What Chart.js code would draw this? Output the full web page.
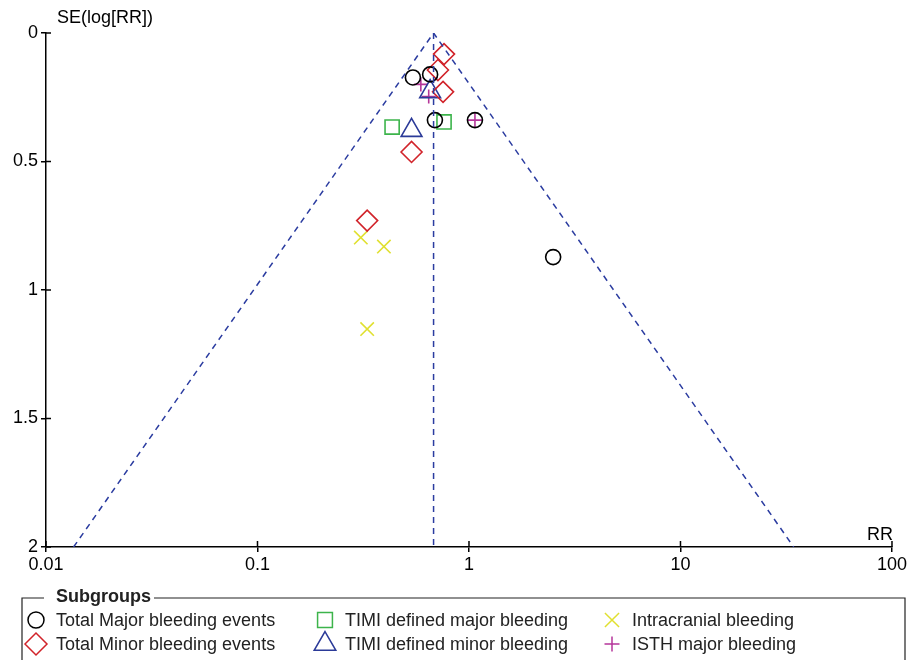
<!DOCTYPE html>
<html>
<head>
<meta charset="utf-8">
<script src="https://cdn.jsdelivr.net/npm/chart.js@4.4.1/dist/chart.umd.min.js"></script>
<style>
  body { margin: 0; background: #fff; }
</style>
</head>
<body>
<canvas id="funnel" width="909" height="660"></canvas>
<script>
// axis ticks
var xTicks = [0.01, 0.1, 1, 10, 100];
var yTicks = [0, 0.5, 1, 1.5, 2];

// pooled estimate + funnel limits
var pooledRR = [0.68, 0.68];
var pooledSE = [0, 2];
var funnelRR = [0.0135, 0.68, 34.3];
var funnelSE = [2, 0, 2];

// subgroups
var majorRR = [0.543, 0.655, 0.690, 1.067, 2.50];
var majorSE = [0.173, 0.161, 0.339, 0.339, 0.872];
var minorRR = [0.762, 0.713, 0.754, 0.535, 0.330];
var minorSE = [0.082, 0.144, 0.229, 0.463, 0.730];
var timiMajRR = [0.433, 0.762];
var timiMajSE = [0.366, 0.346];
var timiMinRR = [0.655, 0.535];
var timiMinSE = [0.228, 0.379];
var icbRR = [0.308, 0.396, 0.330];
var icbSE = [0.796, 0.831, 1.152];
var isthRR = [0.592, 0.645, 1.067];
var isthSE = [0.200, 0.247, 0.339];

function pts(xs, ys) {
  return xs.map(function(x, i) { return { x: x, y: ys[i] }; });
}

var FONT = '"Liberation Sans", Arial, sans-serif';
Chart.defaults.font.family = FONT;
Chart.defaults.font.size = 18;
Chart.defaults.color = '#000';

var groups = [
  { label: 'Total Major bleeding events', rr: majorRR, se: majorSE, style: 'circle', r: 7.5, color: '#000000' },
  { label: 'Total Minor bleeding events', rr: minorRR, se: minorSE, style: 'rectRot', r: 10.5, color: '#d1232a' },
  { label: 'TIMI defined major bleeding', rr: timiMajRR, se: timiMajSE, style: 'rect', r: 10, color: '#3cb44b' },
  { label: 'TIMI defined minor bleeding', rr: timiMinRR, se: timiMinSE, style: 'triangle', r: 12, color: '#2b3a98' },
  { label: 'Intracranial bleeding', rr: icbRR, se: icbSE, style: 'crossRot', r: 9.5, color: '#e0e030' },
  { label: 'ISTH major bleeding', rr: isthRR, se: isthSE, style: 'cross', r: 7, color: '#b5369a' }
];

var datasets = [
  {
    type: 'line', data: pts(funnelRR, funnelSE), borderColor: '#2b3ca0', borderWidth: 1.5,
    borderDash: [6, 5], pointRadius: 0, fill: false, tension: 0
  },
  {
    type: 'line', data: pts(pooledRR, pooledSE), borderColor: '#2b3ca0', borderWidth: 1.5,
    borderDash: [6, 5], pointRadius: 0, fill: false, tension: 0
  }
];
groups.forEach(function(g) {
  datasets.push({
    type: 'scatter', label: g.label, data: pts(g.rr, g.se),
    pointStyle: g.style, pointRadius: g.r, pointHoverRadius: g.r,
    borderColor: g.color, backgroundColor: 'rgba(0,0,0,0)', borderWidth: 1.6
  });
});

// inner tick marks, axis titles and the boxed legend
var extras = {
  id: 'extras',
  afterDraw: function(chart) {
    var ctx = chart.ctx, xs = chart.scales.x, ys = chart.scales.y;
    ctx.save();
    ctx.strokeStyle = '#000';
    ctx.lineWidth = 1.5;
    ctx.beginPath();
    yTicks.forEach(function(v) {
      var py = ys.getPixelForValue(v);
      ctx.moveTo(xs.left, py); ctx.lineTo(xs.left + 5, py);
    });
    xTicks.forEach(function(v) {
      var px = xs.getPixelForValue(v);
      ctx.moveTo(px, ys.bottom); ctx.lineTo(px, ys.bottom - 6);
    });
    ctx.stroke();

    ctx.fillStyle = '#000';
    ctx.font = '18px ' + FONT;
    ctx.textBaseline = 'middle';
    ctx.textAlign = 'left';
    ctx.fillText('SE(log[RR])', 57, 18);
    ctx.textAlign = 'right';
    ctx.fillText('RR', 893, 535);

    // legend frame
    ctx.strokeStyle = '#222';
    ctx.lineWidth = 1.2;
    ctx.beginPath();
    ctx.moveTo(22, 662); ctx.lineTo(22, 598); ctx.lineTo(44, 598);
    ctx.moveTo(154, 598); ctx.lineTo(905, 598); ctx.lineTo(905, 662);
    ctx.stroke();
    ctx.font = 'bold 18px ' + FONT;
    ctx.textAlign = 'left';
    ctx.fillStyle = '#222';
    ctx.fillText('Subgroups', 56, 597);

    var cols = [36, 325, 612];
    var rows = [620, 644];
    ctx.font = '18px ' + FONT;
    groups.forEach(function(g, i) {
      var cx = cols[Math.floor(i / 2)], cy = rows[i % 2];
      ctx.strokeStyle = g.color;
      ctx.fillStyle = 'rgba(0,0,0,0)';
      ctx.lineWidth = 1.5;
      Chart.helpers.drawPoint(ctx, { pointStyle: g.style, radius: g.r + 0.5, rotation: 0, borderWidth: 1.5 }, cx, cy);
      ctx.fillStyle = '#222';
      ctx.fillText(g.label, cx + 20, cy + 1);
    });
    ctx.restore();
  }
};

new Chart(document.getElementById('funnel').getContext('2d'), {
  data: { datasets: datasets },
  plugins: [extras],
  options: {
    responsive: false,
    animation: false,
    layout: { padding: { left: 0, right: 16, top: 33, bottom: 83 } },
    plugins: { legend: { display: false }, tooltip: { enabled: false } },
    scales: {
      x: {
        type: 'logarithmic', min: 0.01, max: 100,
        afterBuildTicks: function(s) { s.ticks = xTicks.map(function(v) { return { value: v }; }); },
        afterFit: function(s) { s.height = 30; },
        ticks: {
          autoSkip: false, maxRotation: 0, padding: 2,
          callback: function(v) { return String(v); }
        },
        grid: { drawOnChartArea: false, color: '#000', lineWidth: 1.5, tickLength: 5 },
        border: { color: '#000', width: 1.5 }
      },
      y: {
        type: 'linear', min: 0, max: 2, reverse: true,
        afterBuildTicks: function(s) { s.ticks = yTicks.map(function(v) { return { value: v }; }); },
        afterFit: function(s) { s.width = 46; },
        ticks: {
          padding: 3,
          callback: function(v) { return String(v); }
        },
        grid: { drawOnChartArea: false, color: '#000', lineWidth: 1.5, tickLength: 5 },
        border: { color: '#000', width: 1.5 }
      }
    }
  }
});
</script>
</body>
</html>
